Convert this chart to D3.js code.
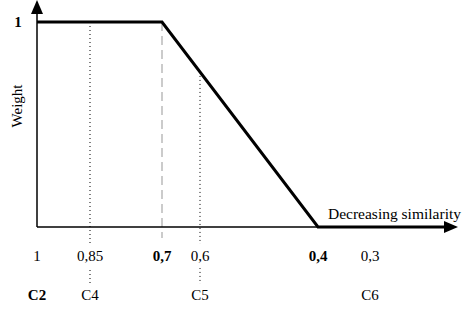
<!DOCTYPE html>
<html>
<head>
<meta charset="utf-8">
<script src="https://cdn.jsdelivr.net/npm/d3@7"></script>
<style>
body { margin: 0; background: #fff; }
svg text { font-family: "Liberation Serif", "Times New Roman", serif; fill: #000; }
</style>
</head>
<body>
<div id="chart"></div>
<script>
// similarity values marked on the axis and their labels
var simTicks = [1, 0.85, 0.7, 0.6, 0.4, 0.3];
var simLabels = ["1", "0,85", "0,7", "0,6", "0,4", "0,3"];
var simBold = [false, false, true, false, true, false];

// classes placed under some of the similarity ticks
var classNames = ["C2", "C4", "C5", "C6"];
var classSim = [1, 0.85, 0.6, 0.3];
var classBold = [true, false, false, false];

// weight function (similarity -> weight)
var curveSim = [1, 0.7, 0.4, 0.2];
var curveWeight = [1, 1, 0, 0];

// guide lines: dotted from the curve down to the class label
var dottedSim = [0.85, 0.6];
var dashedSim = [0.7];

var w = 462, h = 310;
var axisY = 227;

var svg = d3.select("#chart").append("svg")
	.attr("width", w)
	.attr("height", h);

// axis is not evenly spaced in the original figure, so piecewise scale
var x = d3.scaleLinear()
	.domain([1, 0.85, 0.7, 0.6, 0.4, 0.3, 0.2])
	.range([37, 90, 162, 200, 318, 370, 445]);

var y = d3.scaleLinear()
	.domain([0, 1])
	.range([axisY, 22]);

// the curve is drawn straight on screen, so read it back in pixel space
function curveYAt (s) {
	var px = x(s);
	for (var i = 0; i < curveSim.length - 1; i++) {
		var x0 = x(curveSim[i]), x1 = x(curveSim[i + 1]);
		if (px >= x0 && px <= x1) {
			var t = (px - x0) / (x1 - x0);
			return y(curveWeight[i]) + t * (y(curveWeight[i + 1]) - y(curveWeight[i]));
		}
	}
	return axisY;
}

// dotted guides
svg.selectAll(".dotted")
	.data(dottedSim)
	.enter()
	.append("line")
	.attr("class", "dotted")
	.attr("x1", function (d) { return x(d); })
	.attr("x2", function (d) { return x(d); })
	.attr("y1", function (d) { return curveYAt(d); })
	.attr("y2", 284)
	.attr("stroke", "#000")
	.attr("stroke-width", 1)
	.attr("stroke-dasharray", "1,3");

svg.selectAll(".dashed")
	.data(dashedSim)
	.enter()
	.append("line")
	.attr("class", "dashed")
	.attr("x1", function (d) { return x(d); })
	.attr("x2", function (d) { return x(d); })
	.attr("y1", function (d) { return curveYAt(d); })
	.attr("y2", 238)
	.attr("stroke", "#bbb")
	.attr("stroke-width", 1.5)
	.attr("stroke-dasharray", "9,5");

// axes
var axes = svg.append("g");

axes.append("line")
	.attr("x1", x(1)).attr("x2", x(1))
	.attr("y1", axisY).attr("y2", 12)
	.attr("stroke", "#000").attr("stroke-width", 1.5);

axes.append("path")
	.attr("d", "M" + x(1) + ",0 L" + (x(1) - 6) + ",14 L" + (x(1) + 6) + ",14 Z")
	.attr("fill", "#000");

axes.append("line")
	.attr("x1", x(1)).attr("x2", 447)
	.attr("y1", axisY).attr("y2", axisY)
	.attr("stroke", "#000").attr("stroke-width", 1.5);

axes.append("path")
	.attr("d", "M458," + axisY + " L444," + (axisY - 6) + " L444," + (axisY + 6) + " Z")
	.attr("fill", "#000");

// weight curve
var line = d3.line()
	.x(function (d) { return x(d[0]); })
	.y(function (d) { return y(d[1]); });

svg.append("path")
	.datum(d3.zip(curveSim, curveWeight))
	.attr("d", line)
	.attr("fill", "none")
	.attr("stroke", "#000")
	.attr("stroke-width", 3);

// axis titles
svg.append("text")
	.attr("x", 18)
	.attr("y", 27)
	.attr("text-anchor", "middle")
	.attr("font-size", 15)
	.attr("font-weight", "bold")
	.text("1");

svg.append("text")
	.attr("transform", "translate(22,106) rotate(-90)")
	.attr("text-anchor", "middle")
	.attr("font-size", 15)
	.text("Weight");

svg.append("text")
	.attr("x", 461)
	.attr("y", 219)
	.attr("text-anchor", "end")
	.attr("font-size", 15.5)
	.text("Decreasing similarity");

// tick labels with white backing
var ticks = svg.selectAll(".tick-label")
	.data(simTicks)
	.enter()
	.append("g")
	.attr("class", "tick-label")
	.attr("transform", function (d) { return "translate(" + x(d) + ",261)"; });

ticks.append("rect")
	.attr("x", -16).attr("y", -17)
	.attr("width", 32).attr("height", 24)
	.attr("rx", 5)
	.attr("fill", "#fff");

ticks.append("text")
	.attr("text-anchor", "middle")
	.attr("font-size", 15)
	.attr("font-weight", function (d, i) { return simBold[i] ? "bold" : "normal"; })
	.text(function (d, i) { return simLabels[i]; });

var classes = svg.selectAll(".class-label")
	.data(classSim)
	.enter()
	.append("g")
	.attr("class", "class-label")
	.attr("transform", function (d) { return "translate(" + x(d) + ",300)"; });

classes.append("rect")
	.attr("x", -14).attr("y", -15)
	.attr("width", 28).attr("height", 20)
	.attr("fill", "#fff");

classes.append("text")
	.attr("text-anchor", "middle")
	.attr("font-size", 15)
	.attr("font-weight", function (d, i) { return classBold[i] ? "bold" : "normal"; })
	.text(function (d, i) { return classNames[i]; });
</script>
</body>
</html>
